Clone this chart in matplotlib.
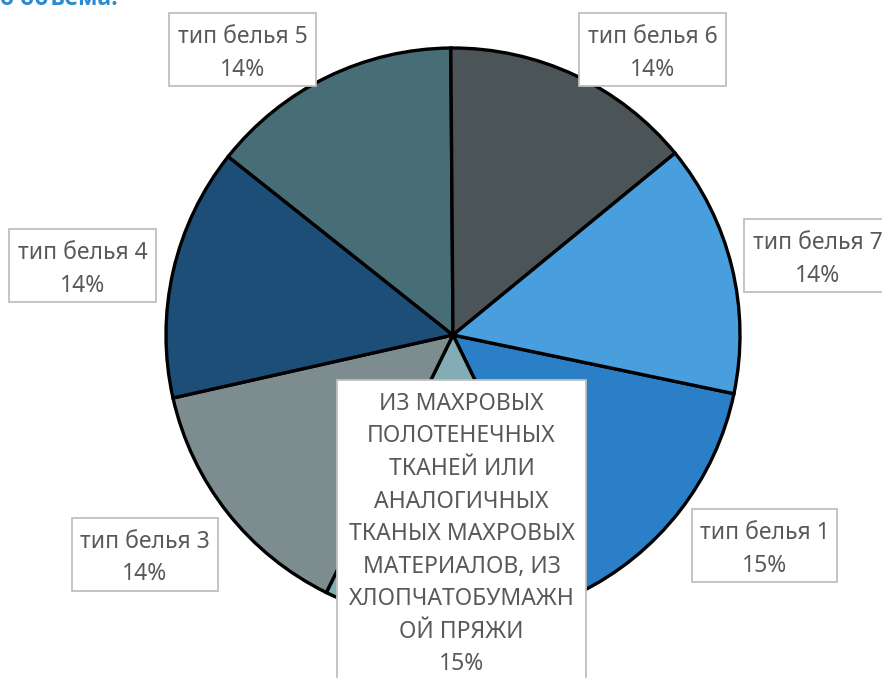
import matplotlib
matplotlib.use("Agg")
import matplotlib.pyplot as plt
from matplotlib.patches import Rectangle

# ---- data ----
categories = [
    "тип белья 1",
    "ИЗ МАХРОВЫХ\nПОЛОТЕНЕЧНЫХ\nТКАНЕЙ ИЛИ\nАНАЛОГИЧНЫХ\nТКАНЫХ МАХРОВЫХ\nМАТЕРИАЛОВ, ИЗ\nХЛОПЧАТОБУМАЖН\nОЙ ПРЯЖИ",
    "тип белья 3",
    "тип белья 4",
    "тип белья 5",
    "тип белья 6",
    "тип белья 7",
]
values = [14.5, 14.5, 14.2, 14.2, 14.2, 14.2, 14.2]
pct_labels = ["15%", "15%", "14%", "14%", "14%", "14%", "14%"]
colors = ["#2a7fc7", "#84acb5", "#7d8d8f", "#1d4e77", "#476e76", "#4b5558", "#499edd"]
title_text = "о объема."

W, H = 882, 678
DPI = 100
fig = plt.figure(figsize=(W / DPI, H / DPI), dpi=DPI)
fig.patch.set_facecolor("white")

# pie axes placement (pixels)
cx, cy, r = 453, 335, 287
ax = fig.add_axes([(cx - r) / W, (H - cy - r) / H, 2 * r / W, 2 * r / H])
ax.pie(values, colors=colors, startangle=90 - 101.8, counterclock=False,
       radius=1.0, wedgeprops=dict(edgecolor="black", linewidth=2.4),
       normalize=True)
ax.set_xlim(-1, 1)
ax.set_ylim(-1, 1)
ax.set_aspect("auto")
ax.axis("off")

FONT = ["Noto Sans", "DejaVu Sans"]
TXT = "#595959"

# label boxes (pixel bounds x0, y0, x1, y1 from top-left)
boxes = [
    (692, 509, 837, 582),
    (337, 380, 586, 700),
    (72, 518, 218, 591),
    (9, 229, 156, 302),
    (169, 13, 316, 86),
    (579, 13, 726, 86),
    (744, 219, 891, 292),
]

def fx(x):
    return x / W

def fy(y):
    return 1 - y / H

for cat, pct, (x0, y0, x1, y1) in zip(categories, pct_labels, boxes):
    rect = Rectangle((fx(x0), fy(y1)), (x1 - x0) / W, (y1 - y0) / H,
                     transform=fig.transFigure, facecolor="white",
                     edgecolor="#bfbfbf", linewidth=1.3, zorder=5)
    fig.add_artist(rect)
    lines = cat.split("\n") + [pct]
    first = y0 + 24
    for i, ln in enumerate(lines):
        fig.text(fx((x0 + x1) / 2), fy(first + i * 32.5), ln,
                 ha="center", va="center", fontsize=16.5, color=TXT,
                 family=FONT, zorder=6)

fig.text(0.0, fy(5), title_text, ha="left", va="baseline", fontsize=16.5,
         fontweight="bold", color="#2a8bd0", family=["Open Sans", "DejaVu Sans"])

fig.savefig("out.png", dpi=DPI, facecolor="white")
